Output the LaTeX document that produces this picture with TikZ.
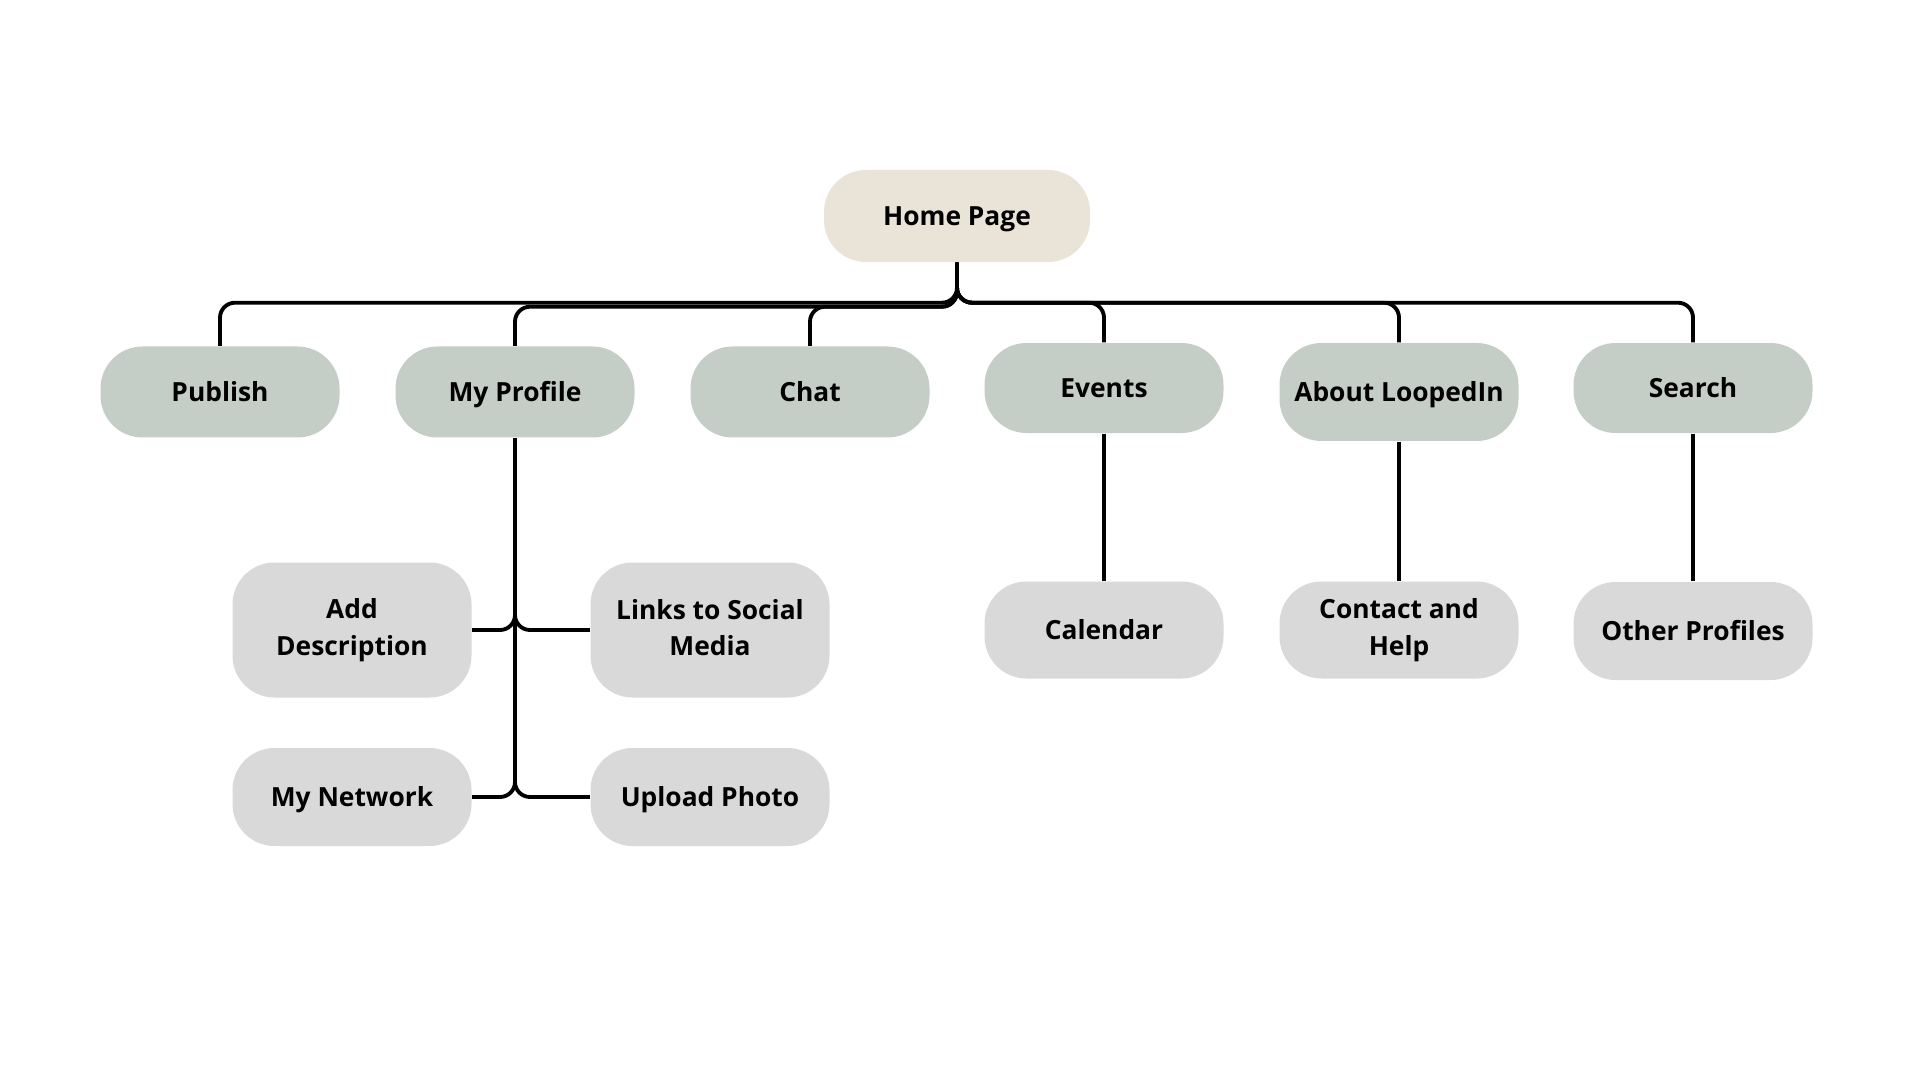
\documentclass[tikz,border=0pt]{standalone}
\usepackage{fontspec}
\setmainfont{Open Sans}
\usepackage{tikz}
\usetikzlibrary{positioning}
\definecolor{homeColor}{RGB}{234,227,215}
\definecolor{mainColor}{RGB}{197,206,198}
\definecolor{subColor}{RGB}{217,217,217}
\newcommand\lineProp{\rule[-1.5pt]{0pt}{8.5pt}}
\tikzset{
    pageBox/.style={rectangle, rounded corners=0.42cm, minimum width=2.39cm, minimum height=0.92cm,
        align=center, inner sep=2pt, text=black, font=\bfseries\fontsize{7.5}{10.4}\selectfont,
        execute at begin node=\lineProp, execute at end node=\lineProp},
    homeBox/.style={pageBox, fill=homeColor, minimum width=2.66cm},
    mainBox/.style={pageBox, fill=mainColor},
    subBox/.style={pageBox, fill=subColor}
}
\tikzset{
    link/.style={line width=1.1pt, rounded corners=0.15cm}
}
\begin{document}
\begin{tikzpicture}
        \fill[white] (0,0) rectangle (19.13,-10.74);
        \useasboundingbox (0,0) rectangle (19.13,-10.74);
        \node[homeBox] (home) at (9.57,-2.16) {Home Page};
        % first level
        \node[mainBox, minimum height=0.91cm] (pub) at (2.20,-3.92) {Publish};
        \node[mainBox, minimum height=0.91cm] (prof) at (5.15,-3.92) {My Profile};
        \node[mainBox, minimum height=0.91cm] (chat) at (8.10,-3.92) {Chat};
        \node[mainBox, minimum height=0.90cm] (events) at (11.04,-3.88) {Events};
        \node[mainBox, minimum height=0.98cm] (about) at (13.99,-3.92) {About LoopedIn};
        \node[mainBox, minimum height=0.90cm] (search) at (16.93,-3.88) {Search};
        % second level
        \node[subBox, minimum height=1.35cm] (addDesc) at (3.52,-6.30) {Add\\Description};
        \node[subBox, minimum height=1.35cm] (links) at (7.10,-6.30) {Links to Social\\Media};
        \node[subBox, minimum height=0.97cm] (calendar) at (11.04,-6.30) {Calendar};
        \node[subBox, minimum height=0.97cm] (contact) at (13.99,-6.30) {Contact and\\Help};
        \node[subBox, minimum height=0.98cm] (others) at (16.93,-6.31) {Other Profiles};
        \node[subBox, minimum height=0.98cm] (network) at (3.52,-7.97) {My Network};
        \node[subBox, minimum height=0.98cm] (upload) at (7.10,-7.97) {Upload Photo};
        % home to first level
        \draw[link] (home.south) -- ++(0,-0.40) -| (pub.north);
        \draw[link] (home.south) -- ++(0,-0.44) -| (prof.north);
        \draw[link] (home.south) -- ++(0,-0.44) -| (chat.north);
        \draw[link] (home.south) -- ++(0,-0.40) -| (events.north);
        \draw[link] (home.south) -- ++(0,-0.40) -| (about.north);
        \draw[link] (home.south) -- ++(0,-0.40) -| (search.north);
        % profile pages
        \draw[link] (prof.south) |- (addDesc.east);
        \draw[link] (prof.south) |- (links.west);
        \draw[link] (prof.south) |- (network.east);
        \draw[link] (prof.south) |- (upload.west);
        % single children
        \draw[link] (events) -- (calendar);
        \draw[link] (about) -- (contact);
        \draw[link] (search) -- (others);
\end{tikzpicture}
\end{document}
